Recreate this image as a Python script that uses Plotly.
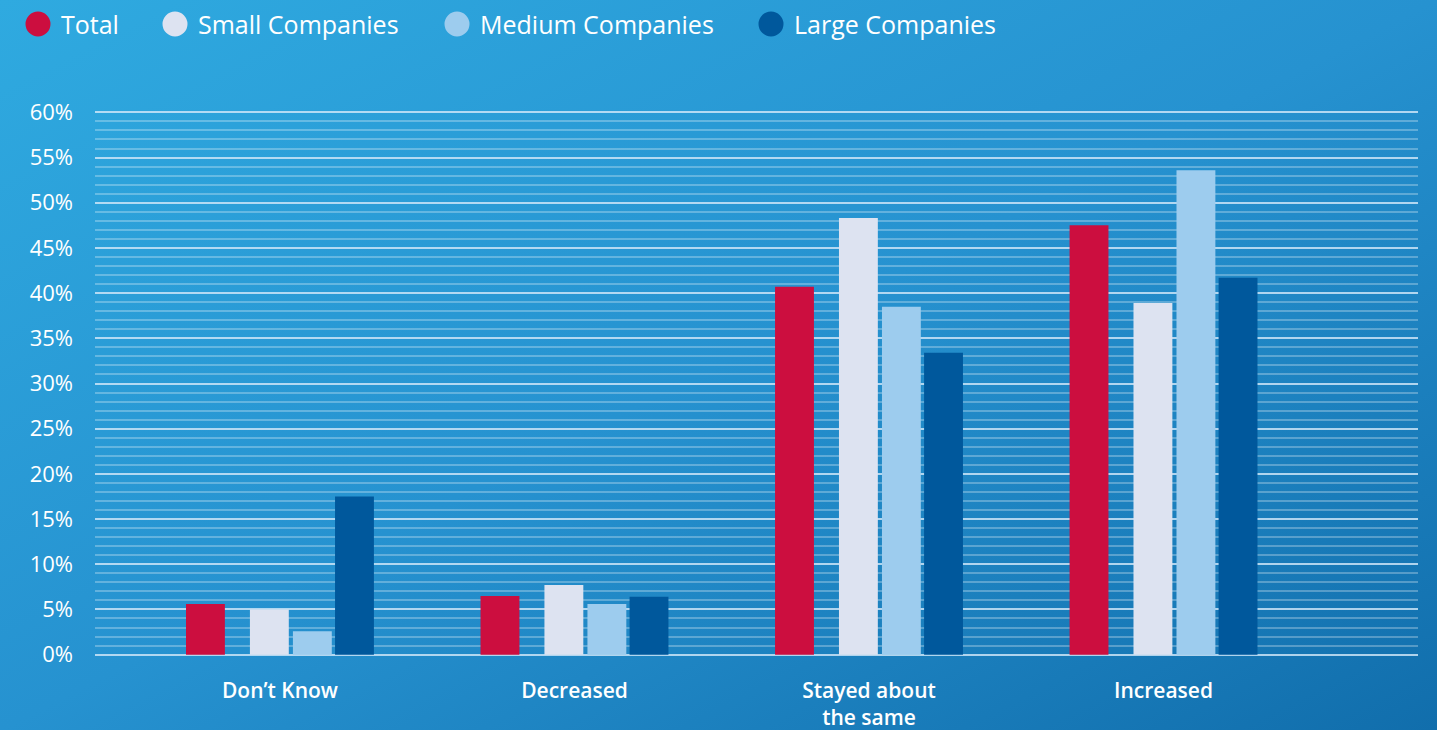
import base64
import plotly.graph_objects as go

# Survey responses by company size (% of respondents)
categories = ["Don’t Know", "Decreased", "Stayed about the same", "Increased"]
tick_text = ["Don’t Know", "Decreased", "Stayed about<br>the same", "Increased"]
series_names = ["Total", "Small Companies", "Medium Companies", "Large Companies"]
total = [5.6, 6.5, 40.7, 47.5]
small = [5.0, 7.7, 48.3, 38.9]
medium = [2.6, 5.6, 38.5, 53.6]
large = [17.5, 6.4, 33.4, 41.7]
y_ticks = [0, 5, 10, 15, 20, 25, 30, 35, 40, 45, 50, 55, 60]
y_tick_text = [f"{v}%" for v in y_ticks]

colors = ["#cc0e3f", "#dde3f1", "#9dccee", "#00589c"]
offsets = [-0.319, -0.102, 0.044, 0.187]
bar_width = 0.132
FONT = "Open Sans"

fig = go.Figure()
for name, vals, col, off in zip(series_names, [total, small, medium, large], colors, offsets):
    fig.add_trace(go.Bar(
        x=categories, y=vals, name=name, marker=dict(color=col, line=dict(width=0)),
        offset=off, width=bar_width, showlegend=False,
        hovertemplate="%{x}: %{y}%<extra>" + name + "</extra>",
    ))

# Diagonal blue gradient backdrop
svg = (
    '<svg xmlns="http://www.w3.org/2000/svg" width="1437" height="730" viewBox="0 0 1437 730" preserveAspectRatio="none">'
    '<defs><linearGradient id="g" x1="0" y1="0" x2="1" y2="1">'
    '<stop offset="0" stop-color="rgb(47,170,224)"/>'
    '<stop offset="0.5" stop-color="rgb(38,146,208)"/>'
    '<stop offset="1" stop-color="rgb(17,110,172)"/>'
    '</linearGradient></defs><rect width="1437" height="730" fill="url(#g)"/></svg>'
)
bg_src = "data:image/svg+xml;base64," + base64.b64encode(svg.encode()).decode()

W, H = 1437, 730
L, R, T, B = 95, 19, 111, 74
PW, PH = W - L - R, H - T - B

# Legend drawn as circles + labels across the top
legend_x = [38, 175, 457, 771]
shapes = []
annotations = []
for name, col, px in zip(series_names, colors, legend_x):
    shapes.append(dict(
        type="circle", xref="paper", yref="paper", xsizemode="pixel", ysizemode="pixel",
        xanchor=(px - L) / PW, yanchor=1 + (T - 24) / PH,
        x0=-12.5, x1=12.5, y0=-12.5, y1=12.5, fillcolor=col, line=dict(width=0),
    ))
    annotations.append(dict(
        text=name, xref="paper", yref="paper", showarrow=False,
        x=(px + 21 - L) / PW, y=1 + (T - 24) / PH,
        xanchor="left", yanchor="middle",
        font=dict(family=FONT, size=25, color="white"),
    ))

fig.update_layout(
    width=W, height=H,
    margin=dict(l=L, r=R, t=T, b=B, autoexpand=False),
    paper_bgcolor="rgba(0,0,0,0)", plot_bgcolor="rgba(0,0,0,0)",
    barmode="overlay",
    images=[dict(source=bg_src, xref="paper", yref="paper", x=-L / PW, y=1 + T / PH,
                 sizex=W / PW, sizey=H / PH, sizing="stretch", layer="below",
                 xanchor="left", yanchor="top")],
    shapes=shapes, annotations=annotations,
    showlegend=False,
    xaxis=dict(
        type="category", range=[-0.628, 3.864], tickvals=categories, ticktext=tick_text,
        showgrid=False, zeroline=False, showline=False, ticks="", automargin=False,
        tickfont=dict(family=FONT, size=21, color="white", weight=600),
        ticklabelstandoff=20,
    ),
    yaxis=dict(
        range=[-0.15, 60.15], tickvals=y_ticks, ticktext=y_tick_text,
        showline=False, zeroline=False, automargin=False,
        gridcolor="rgba(205,230,248,0.75)", gridwidth=2,
        minor=dict(dtick=1, showgrid=True, gridcolor="rgba(255,255,255,0.28)", gridwidth=2),
        tickfont=dict(family=FONT, size=22, color="white"),
        ticklabelstandoff=21, layer="below traces",
    ),
)

fig.write_html("out.html")
